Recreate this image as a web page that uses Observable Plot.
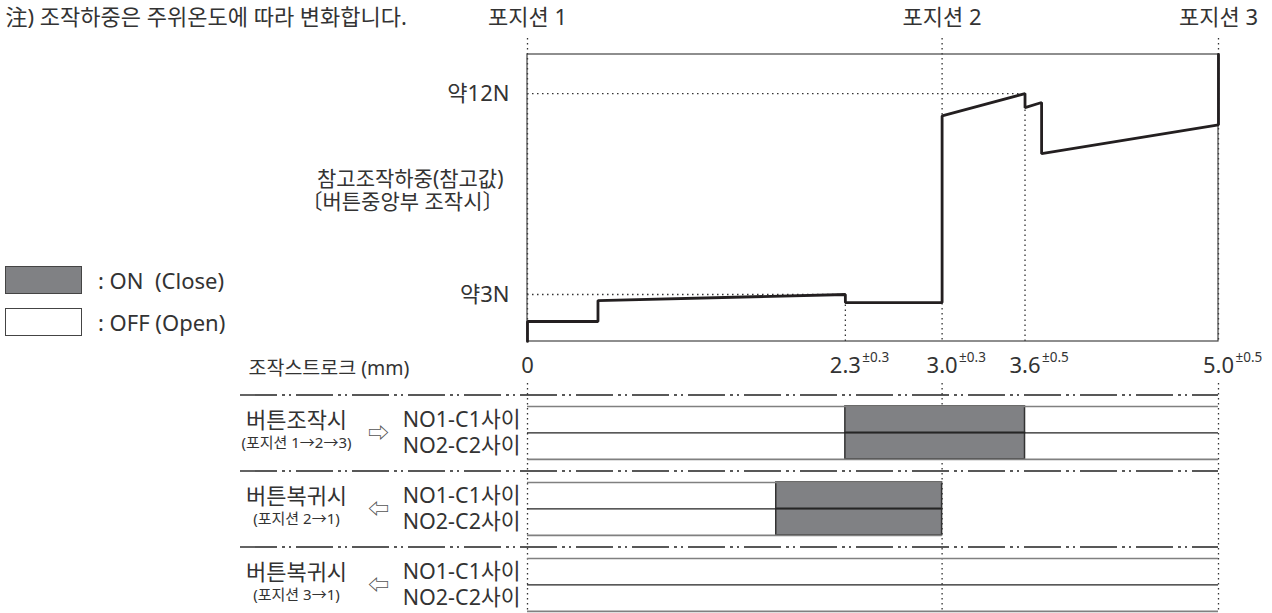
<!DOCTYPE html>
<html><head><meta charset="utf-8">
<script src="https://cdn.jsdelivr.net/npm/d3@7"></script>
<script src="https://cdn.jsdelivr.net/npm/@observablehq/plot@0.6"></script>
<style>
html,body{margin:0;padding:0;background:#fff;overflow:hidden;}
#wrap{position:relative;width:1272px;height:613px;font-family:"Noto Sans","Noto Sans CJK KR",sans-serif;color:#333;}
#wrap svg{position:absolute;left:0;overflow:visible;}
.legend{position:absolute;left:5px;font-size:22px;display:flex;align-items:center;height:28px;}
.sw{width:77px;height:28px;box-sizing:border-box;border:1.5px solid #444;margin-right:16px;}
</style></head><body><div id="wrap"></div>
<script>
// ---- data ----
const note = "注) 조작하중은 주위온도에 따라 변화합니다.";
const positionLabels = ["포지션 1", "포지션 2", "포지션 3"];
const positionStrokes = [0, 3.0, 5.0];
const forceStroke = [0, 0, 0.51, 0.51, 2.3, 2.3, 3.0, 3.0, 3.6, 3.6, 3.72, 3.72, 5.0, 5.0];
const forceN      = [0.9, 1.79, 1.79, 2.73, 3.0, 2.64, 2.64, 11.0, 12.0, 11.37, 11.6, 9.31, 10.6, 13.75];
const refLoads = [3, 12];
const refLoadLabels = ["약3N", "약12N"];
const refLoadStroke = [2.3, 3.6];
const yTitle = ["참고조작하중(참고값)", "〔버튼중앙부 조작시〕"];
const tickValues = [0, 2.3, 3.0, 3.6, 5.0];
const tickLabels = ["0", "2.3", "3.0", "3.6", "5.0"];
const tickTolerances = ["", "±0.3", "±0.3", "±0.5", "±0.5"];
const strokeAxisLabel = "조작스트로크 (mm)";
const modes = ["버튼조작시", "버튼복귀시", "버튼복귀시"];
const modeNotes = ["(포지션 1→2→3)", "(포지션 2→1)", "(포지션 3→1)"];
const modeArrows = ["⇨", "⇦", "⇦"];
const modeEnd = [5.0, 3.0, 5.0];
const contacts = ["NO1-C1사이", "NO2-C2사이"];
const onStart = [2.3, 1.8, null];
const onEnd = [3.6, 3.0, null];
const legendLabels = [": ON  (Close)", ": OFF (Open)"];
const legendFills = ["#808184", "#ffffff"];

// ---- layout ----
const wrap = document.getElementById("wrap");
const font = '"Noto Sans","Noto Sans CJK KR",sans-serif';
const ink = "#333";
const dotted = {stroke: "#333", strokeWidth: 1.3, strokeDasharray: "1.5,3.5"};
const xRange = [527, 1218];
const yDom = [0.895, 13.75];

const plotA = Plot.plot({
  width: 1272, height: 385,
  marginTop: 38, marginBottom: 44, marginLeft: 0, marginRight: 0,
  x: {domain: [0, 5], range: xRange, axis: null},
  y: {domain: yDom, range: [341, 54], axis: null},
  style: {fontFamily: font, fontSize: "22px", color: ink, background: "transparent"},
  marks: [
    Plot.ruleX(positionStrokes, {x: d => d, ...dotted}),
    Plot.ruleX(refLoadStroke, {x: d => d, y1: () => yDom[0], y2: (d, i) => refLoads[i], ...dotted}),
    Plot.ruleY(refLoads, {y: d => d, x1: () => 0, x2: (d, i) => refLoadStroke[i], ...dotted}),
    Plot.rect([0], {x1: () => 0, x2: () => 5, y1: () => yDom[0], y2: () => yDom[1], fill: "none", stroke: "#444", strokeWidth: 1.2}),
    Plot.line(forceStroke.map((x, i) => ({x, y: forceN[i]})), {x: "x", y: "y", stroke: "#231f20", strokeWidth: 2.8, strokeLinejoin: "miter"}),
    Plot.text(positionLabels, {x: (d, i) => positionStrokes[i], text: d => d, frameAnchor: "top", lineAnchor: "middle", textAnchor: "middle", dy: -21, fill: ink}),
    Plot.text([note], {text: d => d, frameAnchor: "top-left", textAnchor: "start", lineAnchor: "middle", dx: 5, dy: -21, fill: ink}),
    Plot.text(refLoadLabels, {x: () => 0, y: (d, i) => refLoads[i], text: d => d, textAnchor: "end", lineAnchor: "middle", dx: -18, fill: ink}),
    Plot.text([yTitle.join("\n")], {x: () => 0, text: d => d, frameAnchor: "left", textAnchor: "end", lineAnchor: "middle", dx: -24, lineHeight: 1.08, fontSize: 21, fill: ink}),
    Plot.text(tickLabels, {x: (d, i) => tickValues[i], text: d => d, frameAnchor: "bottom", textAnchor: "middle", lineAnchor: "middle", dy: 24, fontSize: 22, fill: ink}),
    Plot.text(tickTolerances, {filter: d => d, x: (d, i) => tickValues[i], text: d => d, frameAnchor: "bottom", textAnchor: "start", lineAnchor: "middle", dx: 17, dy: 16, fontSize: 13.5, fill: ink}),
    Plot.text([strokeAxisLabel], {text: d => d, frameAnchor: "bottom-left", textAnchor: "start", lineAnchor: "middle", dx: 248, dy: 27, fontSize: 19.5, fill: ink})
  ]
});
plotA.style.top = "0px";
wrap.appendChild(plotA);

// timing chart
const rowH = 26.4;
const S = 76 / rowH;          // group step in row units
const sepOff = 11.5 / rowH;   // separator above first row
const yMax = 2 * S + 2;
const rows = modes.flatMap((m, g) => contacts.map((c, i) => ({g, i, label: c, x1: onStart[g], x2: onEnd[g]})));

const plotB = Plot.plot({
  width: 1272, height: 238,
  marginTop: 8, marginBottom: 3, marginLeft: 240, marginRight: 54,
  x: {domain: [0, 5], range: xRange, axis: null},
  y: {domain: [0, yMax], range: [31, 31 + yMax * rowH], axis: null},
  style: {fontFamily: font, fontSize: "22px", color: ink, background: "transparent"},
  marks: [
    Plot.ruleX(positionStrokes, {x: d => d, ...dotted}),
    Plot.ruleY(modes, {y: (d, g) => g * S - sepOff, stroke: "#222", strokeWidth: 1.4, strokeDasharray: "37,5,3,4,2,5"}),
    Plot.rect(rows.filter(r => r.x1 != null), {x1: "x1", x2: "x2", y1: d => d.g * S + d.i, y2: d => d.g * S + d.i + 1, fill: "#808184", stroke: "#333", strokeWidth: 1.5}),
    Plot.ruleY(modes, {y: (d, g) => g * S, x1: () => 0, x2: (d, g) => modeEnd[g], stroke: "#808080", strokeWidth: 1.4}),
    Plot.ruleY(modes, {y: (d, g) => g * S + 1, x1: () => 0, x2: (d, g) => modeEnd[g], stroke: "#222", strokeWidth: 1.2}),
    Plot.ruleY(modes, {y: (d, g) => g * S + 2, x1: () => 0, x2: (d, g) => modeEnd[g], stroke: "#808080", strokeWidth: 1.8}),
    Plot.text(rows, {x: () => 0, y: d => d.g * S + d.i + 0.5, text: "label", textAnchor: "end", lineAnchor: "middle", dx: -7, fontSize: 21.5, fill: ink}),
    Plot.text(modes, {frameAnchor: "left", y: (d, g) => g * S + 0.5, text: d => d, textAnchor: "middle", lineAnchor: "middle", dx: 56, dy: 1, fill: ink}),
    Plot.text(modeNotes, {frameAnchor: "left", y: (d, g) => g * S + 0.5, text: d => d, textAnchor: "middle", lineAnchor: "middle", dx: 56, dy: 23, fontSize: 15, fill: ink}),
    Plot.text(modeArrows, {frameAnchor: "left", y: (d, g) => g * S + 1, text: d => d, textAnchor: "middle", lineAnchor: "middle", dx: 138, fontSize: 21, fill: "#555"})
  ]
});
plotB.style.top = "375px";
wrap.appendChild(plotB);

// legend
legendLabels.forEach((lab, k) => {
  const div = document.createElement("div");
  div.className = "legend";
  div.style.top = (266 + k * 42) + "px";
  const sw = document.createElement("div");
  sw.className = "sw";
  sw.style.background = legendFills[k];
  div.appendChild(sw);
  const t = document.createElement("span");
  t.textContent = lab;
  t.style.whiteSpace = "pre";
  div.appendChild(t);
  wrap.appendChild(div);
});
</script></body></html>
